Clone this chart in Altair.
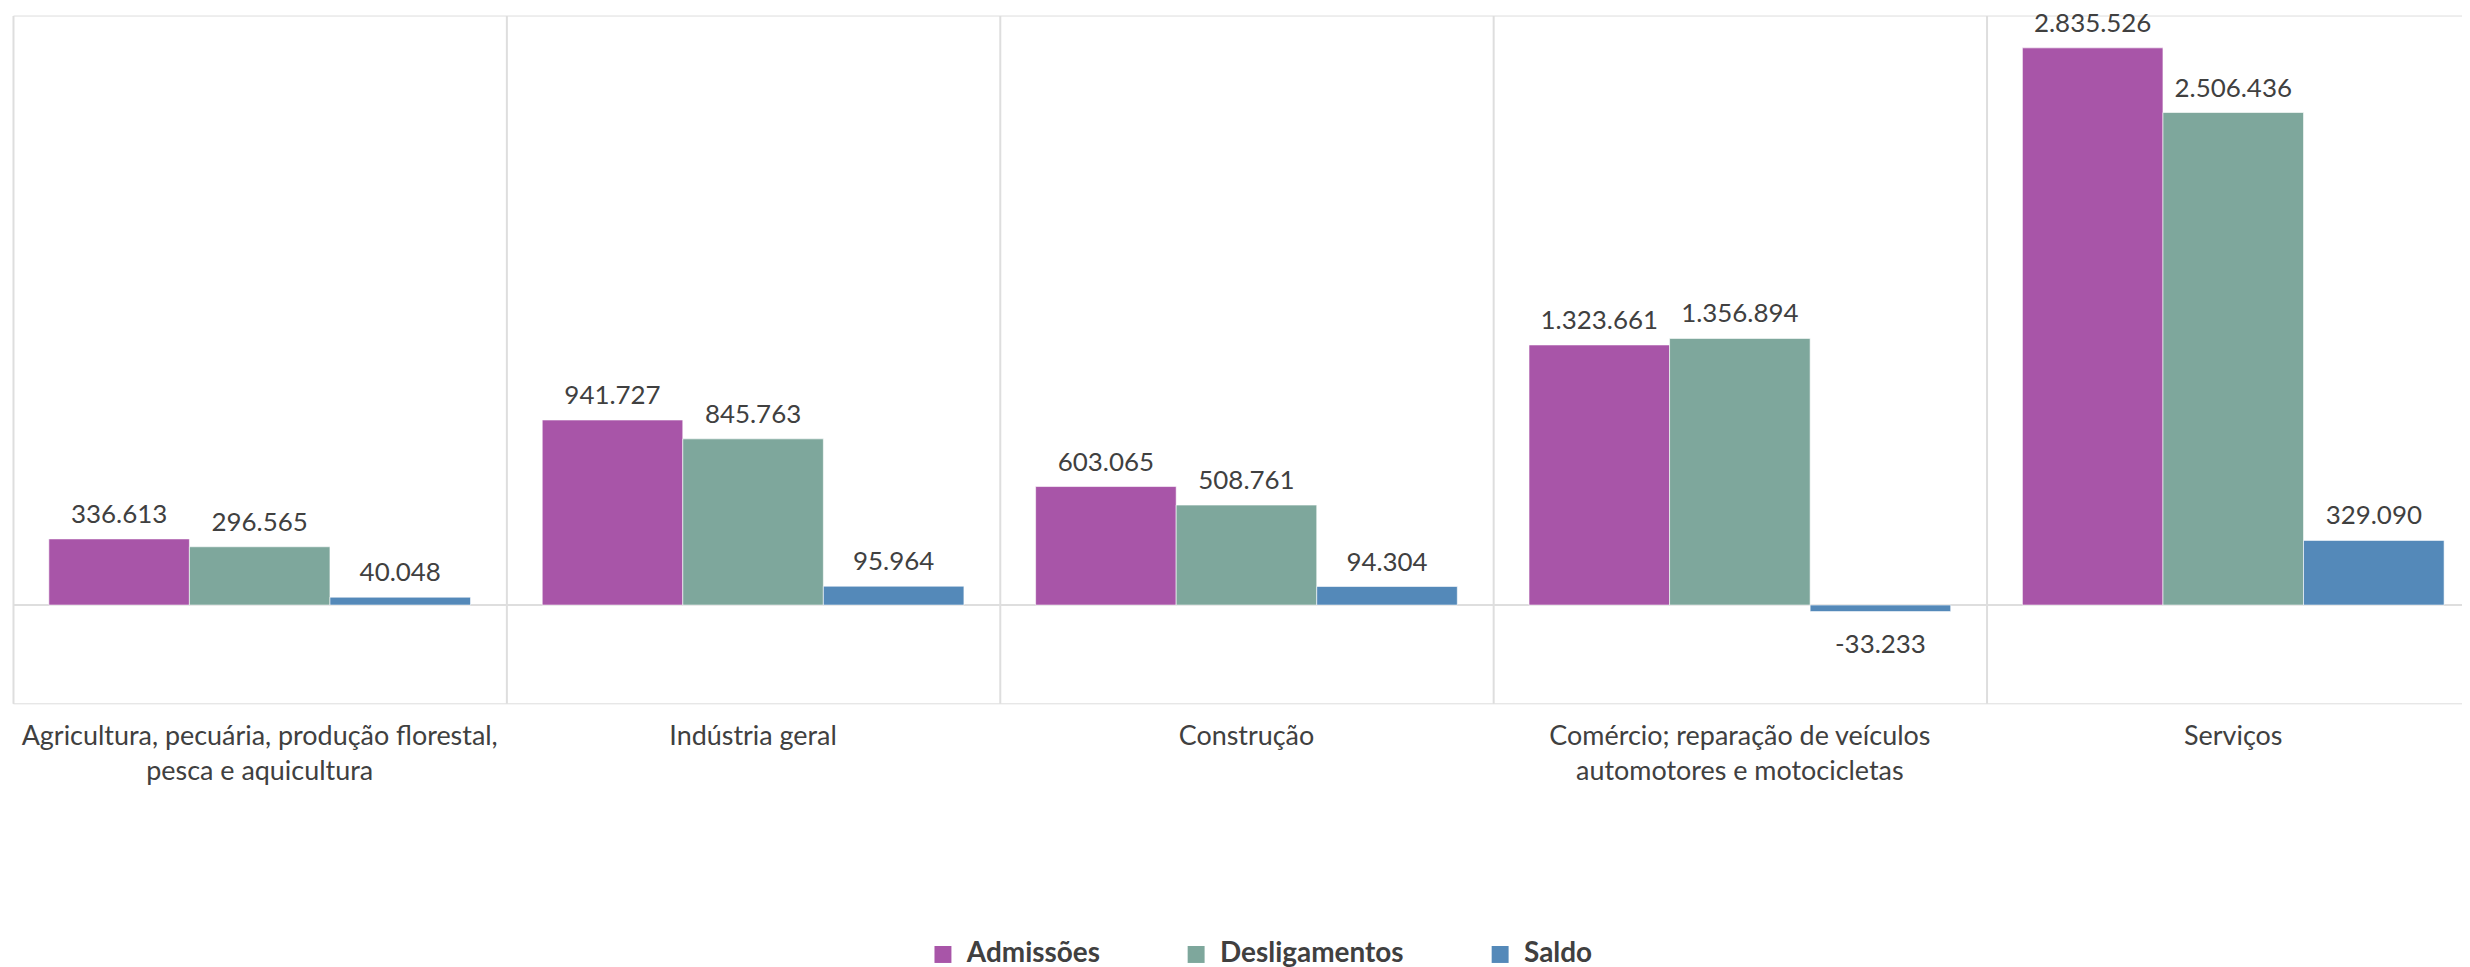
import altair as alt
import pandas as pd

categories = [
    "Agricultura, pecuária, produção florestal,\npesca e aquicultura",
    "Indústria geral",
    "Construção",
    "Comércio; reparação de veículos\nautomotores e motocicletas",
    "Serviços",
]
series_names = ["Admissões", "Desligamentos", "Saldo"]
admissoes = [336613, 941727, 603065, 1323661, 2835526]
desligamentos = [296565, 845763, 508761, 1356894, 2506436]
saldo = [40048, 95964, 94304, -33233, 329090]
colors = ["#A855A8", "#7EA79C", "#5489B9"]

rows = []
for s, vals in zip(series_names, [admissoes, desligamentos, saldo]):
    for c, v in zip(categories, vals):
        rows.append({"cat": c, "serie": s, "valor": v,
                     "rotulo": f"{v:,}".replace(",", ".")})
df = pd.DataFrame(rows)

FONT = "Lato"
TXT = "#404040"

x_enc = alt.X(
    "cat:N",
    sort=categories,
    scale=alt.Scale(range=[0, 2475], paddingInner=0, paddingOuter=0),
    axis=alt.Axis(
        title=None, grid=True, bandPosition=0, gridColor="#dedede", gridWidth=2,
        ticks=False, domain=False, labelAngle=0, labelFontSize=27,
        labelColor=TXT, labelFont=FONT, labelPadding=20, labelLineHeight=35,
        labelExpr="split(datum.label, '\\n')", labelLimit=1000,
    ),
)
xo_enc = alt.XOffset("serie:N", sort=series_names,
                     scale=alt.Scale(paddingInner=0, paddingOuter=0.255))
y_scale = alt.Scale(domain=[-500000, 3000000], nice=False, zero=True)

base = alt.Chart(df)

zero = alt.Chart(pd.DataFrame({"z": [0]})).mark_rule(
    color="#dedede", strokeWidth=2
).encode(y=alt.Y("z:Q", scale=y_scale, axis=None))

bars = base.mark_bar(stroke="white", strokeWidth=0.6).encode(
    x=x_enc,
    xOffset=xo_enc,
    y=alt.Y("valor:Q", scale=y_scale, axis=None),
    color=alt.Color(
        "serie:N", sort=series_names,
        scale=alt.Scale(domain=series_names, range=colors),
        legend=alt.Legend(
            title=None, orient="none", direction="horizontal",
            legendX=919, legendY=928, symbolType="square", symbolSize=289,
            symbolStrokeWidth=0, labelFont=FONT, labelFontSize=28,
            labelFontWeight="bold", labelColor=TXT, labelOffset=10,
            labelLimit=500, columnPadding=82, padding=0,
        ),
    ),
)

pos_text = base.transform_filter("datum.valor >= 0").mark_text(
    font=FONT, fontSize=26, color=TXT, baseline="alphabetic", dy=-16
).encode(x=x_enc, xOffset=xo_enc, y=alt.Y("valor:Q", scale=y_scale, axis=None),
         text="rotulo:N")

neg_text = base.transform_filter("datum.valor < 0").mark_text(
    font=FONT, fontSize=26, color=TXT, baseline="alphabetic", dy=42
).encode(x=x_enc, xOffset=xo_enc, y=alt.Y("valor:Q", scale=y_scale, axis=None),
         text="rotulo:N")

chart = alt.layer(zero, bars, pos_text, neg_text).properties(
    width=2457, height=690,
    autosize=alt.AutoSizeParams(type="none"),
    padding={"left": 5, "top": 6, "right": 0, "bottom": 265},
).configure_view(stroke=None).configure(background="white", font=FONT)

chart.save("out.html", embed_options={"renderer": "svg", "actions": False})
